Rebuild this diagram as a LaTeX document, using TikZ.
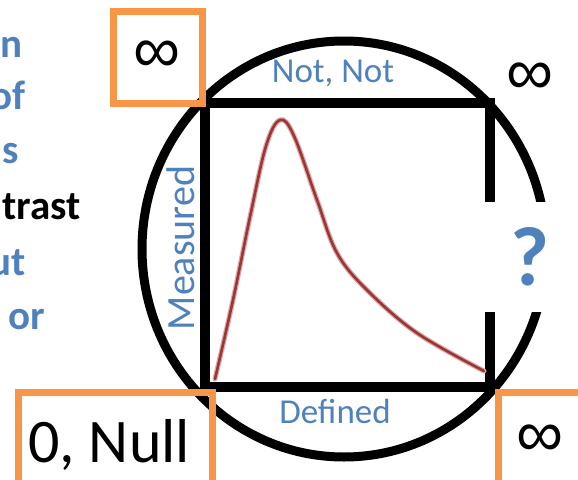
\documentclass[tikz,border=0pt]{standalone}
\usepackage{fontspec}
\setmainfont{Carlito}
\newfontfamily\inffont{Liberation Sans}
\usepackage{tikz}
\usetikzlibrary{positioning}
\definecolor{cblue}{HTML}{4F81BD}
\definecolor{cred}{HTML}{B5413F}
\definecolor{corange}{HTML}{F79646}
\tikzset{
  ring/.style={draw=black, line width=9pt},
  frame/.style={draw=black, line width=9.5pt},
  obox/.style={draw=corange, line width=7pt},
  inf/.style={inner sep=0pt, font=\inffont\fontsize{66}{66}\selectfont},
  side/.style={inner sep=0pt, text=cblue, font=\fontsize{35}{35}\selectfont, anchor=base},
  frag/.style={inner sep=0pt, text=cblue, font=\bfseries\fontsize{41}{41}\selectfont, anchor=base east},
  pdf/.style={draw=cred!45, line width=1.2pt, double=cred!85!black, double distance=2.6pt, line cap=round}
}

\begin{document}
\begin{tikzpicture}[x=1pt, y=-1pt]
\clip (0,0) rectangle (578,479);
\fill[white] (0,0) rectangle (578,479);
% cut-off text of the slide on the left
\node[frag] (fn) at (23,57) {n};
\node[frag] (fof) at (26,109) {of};
\node[frag] (fs) at (19,163) {s};
\node[frag, text=black] (ftrast) at (81,219) {trast};
\node[frag] (fut) at (26,275) {ut};
\node[frag] (for) at (45,329) {or};
% circle and square
\draw[ring] (344,249) ellipse [x radius=202pt, y radius=208pt];
\draw[frame] (205,103) rectangle (490,387);
\fill[white] (478,202) rectangle (562,312);
% curve
\draw[pdf] plot[smooth, tension=0.6] coordinates {(215,379) (233,300) (250,217) (266,146) (280,120) (294,136) (317,200) (337,253) (367,290) (417,333) (484,371)};
% orange boxes
\draw[obox] (113,11) rectangle (202,103);
\draw[obox] (18,392) rectangle (212,500);
\draw[obox] (498,392) rectangle (600,500);
% labels
\node[inf] (infTL) at (157,57) {∞};
\node[inf] (infTR) at (530,79) {∞};
\node[inf] (infBR) at (540,441) {∞};
\node[inner sep=0pt, anchor=base, font=\fontsize{62}{62}\selectfont] (null) at (109,462) {0, Null};
\node[side] (notnot) at (333,82) {Not, Not};
\node[side] (defined) at (335,423) {Defined};
\node[side, rotate=90, font=\fontsize{40}{40}\selectfont] (measured) at (194,248) {Measured};
\node[inner sep=0pt, anchor=base, text=cblue, font=\bfseries\fontsize{84}{84}\selectfont] (qmark) at (530,285) {?};
\end{tikzpicture}
\end{document}
